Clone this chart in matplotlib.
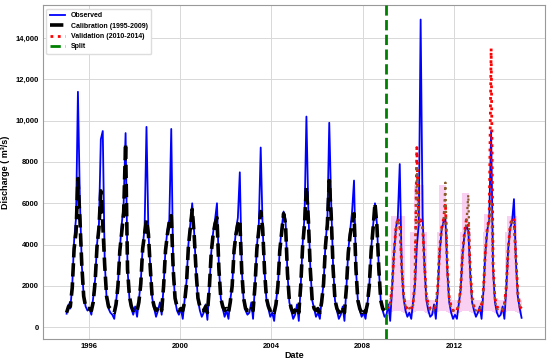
import matplotlib
matplotlib.use("Agg")
import matplotlib.pyplot as plt
import matplotlib.dates as mdates
from matplotlib.ticker import FuncFormatter
import pandas as pd

plt.rcParams["font.family"] = ["Liberation Sans", "DejaVu Sans"]
plt.rcParams["font.weight"] = "bold"

# monthly values (m3/s), one row per year, Jan..Dec
observed = [
    650, 1100, 900, 2000, 4200, 5300, 11400, 6200, 3000, 1500, 1000, 800,      # 1995
    900, 600, 1400, 2300, 4000, 5000, 9100, 9500, 3200, 1400, 900, 700,        # 1996
    600, 400, 1200, 2100, 3800, 5000, 6000, 9400, 2800, 1400, 900, 600,        # 1997
    1000, 500, 1300, 2200, 3900, 4800, 9700, 4600, 2800, 1400, 900, 500,       # 1998
    800, 1200, 600, 2000, 3800, 4700, 5200, 9600, 2800, 1300, 800, 600,        # 1999
    900, 400, 1300, 2200, 4000, 5000, 6000, 4600, 2700, 1300, 800, 500,        # 2000
    700, 1100, 350, 1900, 3600, 4600, 5200, 6000, 2900, 1400, 900, 500,        # 2001
    800, 400, 1300, 2000, 3700, 4700, 5300, 7500, 2800, 1300, 800, 600,        # 2002
    700, 1200, 400, 2100, 3900, 5000, 8700, 4800, 2700, 1300, 900, 500,        # 2003
    700, 300, 1200, 2000, 3800, 4800, 5600, 5200, 2600, 1200, 800, 400,        # 2004
    600, 1100, 300, 2000, 4000, 5400, 10200, 5600, 2900, 1300, 900, 500,       # 2005
    700, 400, 1300, 2100, 4000, 5200, 9900, 6000, 2900, 1300, 800, 400,        # 2006
    600, 1000, 300, 1900, 3700, 4700, 5600, 7100, 2800, 1300, 800, 500,        # 2007
    700, 400, 1100, 2000, 3800, 4900, 6000, 5000, 2800, 1300, 800, 500,        # 2008
    600, 1100, 300, 1900, 3600, 4800, 5300, 7900, 2900, 1400, 800, 500,        # 2009
    700, 400, 1200, 2000, 3900, 5000, 14900, 5400, 2900, 1300, 800, 500,       # 2010
    600, 1100, 400, 1800, 3600, 4700, 5100, 5300, 2700, 1200, 700, 400,        # 2011
    600, 400, 1100, 1800, 3500, 4500, 4900, 4700, 2600, 1200, 800, 500,        # 2012
    700, 1000, 400, 1800, 3600, 4700, 5200, 9500, 2800, 1200, 700, 500,        # 2013
    600, 1000, 400, 1900, 3800, 4800, 5100, 6200, 3200, 1500, 900, 450,        # 2014
]

calibration = [
    700, 1000, 1000, 1900, 3800, 4600, 7200, 5300, 3000, 1500, 1000, 900,     # 1995
    900, 800, 1200, 2200, 3900, 4800, 6600, 5000, 3000, 1500, 1000, 900,      # 1996
    800, 700, 1100, 2000, 3700, 4600, 5500, 8900, 2800, 1500, 1000, 800,      # 1997
    900, 800, 1200, 2100, 3800, 4500, 5200, 4500, 2800, 1400, 1000, 800,      # 1998
    900, 1000, 800, 2000, 3700, 4500, 5100, 5400, 2800, 1400, 1000, 800,      # 1999
    900, 800, 1200, 2100, 3900, 4800, 5700, 4500, 2700, 1400, 1000, 800,      # 2000
    800, 1000, 700, 1900, 3600, 4500, 5000, 5300, 2800, 1400, 1000, 800,      # 2001
    900, 700, 1200, 2000, 3700, 4500, 5000, 5200, 2700, 1400, 900, 800,       # 2002
    800, 1000, 800, 2000, 3800, 4700, 5600, 4800, 2700, 1400, 1000, 800,      # 2003
    900, 700, 1100, 2000, 3700, 4600, 5500, 5000, 2600, 1300, 900, 700,       # 2004
    800, 1000, 700, 2000, 3900, 5000, 6800, 5200, 2800, 1300, 900, 800,       # 2005
    900, 700, 1200, 2100, 3900, 5000, 7100, 5400, 2800, 1300, 900, 700,       # 2006
    800, 1000, 700, 1900, 3600, 4500, 5000, 5500, 2800, 1300, 900, 700,       # 2007
    900, 700, 1100, 2000, 3700, 4800, 6000, 4900, 2800, 1300, 900, 800,       # 2008
]

validation = [
    1000, 900, 1100, 2000, 3600, 4800, 5300, 5000, 2900, 1500, 1000, 900,     # 2009
    800, 900, 1100, 2200, 8700, 5000, 5200, 5000, 3000, 1500, 1100, 900,      # 2010
    800, 900, 1000, 2000, 3800, 4800, 5200, 6000, 2900, 1400, 1000, 800,      # 2011
    900, 800, 1100, 1900, 3600, 4600, 5200, 5000, 2800, 1400, 1000, 900,      # 2012
    900, 800, 1100, 1900, 3700, 4800, 5300, 13500, 3000, 1400, 1000, 900,     # 2013
    900, 800, 1100, 2000, 3800, 4900, 5300, 5200, 3400, 1700, 1000, 900,      # 2014
]

validation_alt = [
    1100, 1000, 1000, 1900, 3500, 4700, 5200, 4900, 3000, 1600, 1000, 1000,   # 2009
    900, 1000, 1000, 2100, 7800, 4900, 5000, 4800, 2900, 1400, 1000, 800,     # 2010
    900, 800, 1100, 1900, 3700, 4700, 5000, 7000, 2700, 1300, 900, 800,       # 2011
    800, 900, 1000, 2000, 3500, 4500, 5000, 6400, 2600, 1300, 900, 800,       # 2012
    900, 900, 1000, 1800, 3600, 4700, 5200, 6000, 2900, 1300, 900, 800,       # 2013
    800, 900, 1000, 1900, 3700, 4800, 5200, 5000, 3200, 1600, 1000, 900,      # 2014
]

band_upper = [
    1300, 1300, 1400, 5400, 5400, 5400, 5400, 5400, 5400, 5400, 1500, 1300,   # 2009
    1300, 4600, 4600, 6900, 6900, 6900, 6900, 6900, 4600, 4600, 1500, 1300,   # 2010
    1300, 1300, 1500, 4600, 6900, 6900, 6900, 6900, 4600, 1500, 1400, 1300,   # 2011
    1300, 1300, 1500, 4600, 6500, 6500, 6500, 6500, 4600, 1500, 1400, 1300,   # 2012
    1300, 1300, 1500, 4600, 5500, 5500, 5500, 5500, 4600, 1500, 1400, 1300,   # 2013
    1300, 1300, 1500, 4600, 5400, 5400, 5400, 5400, 5400, 1500, 1400, 1300,   # 2014
]

band_lower = [
    700, 650, 700, 750, 800, 800, 800, 800, 750, 700, 700, 650,   # 2009
    650, 650, 700, 750, 800, 800, 800, 800, 750, 700, 650, 650,   # 2010
    650, 650, 700, 750, 800, 800, 800, 800, 750, 700, 650, 650,   # 2011
    650, 650, 700, 750, 800, 800, 800, 800, 750, 700, 650, 650,   # 2012
    650, 650, 700, 750, 800, 800, 800, 800, 750, 700, 650, 650,   # 2013
    650, 650, 700, 750, 800, 800, 800, 800, 750, 700, 650, 650,   # 2014
]

split_date = "2009-01-01"
y_ticks = [0, 2000, 4000, 6000, 8000, 10000, 12000, 14000]

dates_all = pd.date_range("1995-01-01", periods=len(observed), freq="MS") + pd.Timedelta(days=14)
dates_cal = dates_all[:len(calibration)]
dates_val = dates_all[len(calibration):]

fig = plt.figure(figsize=(5.5, 3.64), dpi=100)
ax = fig.add_axes([0.078, 0.069, 0.913, 0.917])

ax.fill_between(dates_val, band_lower, band_upper, step="mid",
                color="#f7bdec", alpha=0.7, linewidth=0, zorder=1)
ax.plot(dates_all, observed, color="#0000ff", lw=1.3, label="Observed", zorder=2)
ax.plot(dates_cal, calibration, color="black", lw=2.6, ls="--",
        label="Calibration (1995-2009)", zorder=3)
ax.plot(dates_val, validation, color="#ff0000", lw=2.0, ls=":",
        label="Validation (2010-2014)", zorder=3)
ax.plot(dates_val, validation_alt, color="#8b5a2b", lw=1.6, ls=":", zorder=4)
ax.axvline(pd.Timestamp(split_date), color="#008000", lw=2.0, ls="--",
           label="Split", zorder=5)

ax.set_xlim(pd.Timestamp("1994-01-01"), pd.Timestamp("2015-12-25"))
ax.set_ylim(-570, 15600)
ax.set_yticks(y_ticks)
ax.yaxis.set_major_formatter(FuncFormatter(
    lambda v, p: f"{v:,.0f}" if v >= 10000 else f"{v:.0f}"))
ax.xaxis.set_major_locator(mdates.YearLocator(4))
ax.xaxis.set_major_formatter(mdates.DateFormatter("%Y"))

ax.grid(True, color="#d8d8d8", lw=0.7)
ax.set_axisbelow(True)
ax.tick_params(length=0, labelsize=5.5, pad=3)
for lab in ax.get_xticklabels() + ax.get_yticklabels():
    lab.set_fontweight("bold")
for sp in ax.spines.values():
    sp.set_color("#999999")
    sp.set_linewidth(0.8)

ax.set_xlabel("Date", fontsize=6.5, fontweight="bold", labelpad=1)
ax.set_ylabel("Discharge ( m³/s)", fontsize=6.5, fontweight="bold", labelpad=4)

ax.legend(loc="upper left", prop={"size": 5, "weight": "bold"},
          framealpha=1, edgecolor="#dddddd", borderpad=0.5, handlelength=2.2)

plt.savefig("out.png", dpi=100)
plt.close()
